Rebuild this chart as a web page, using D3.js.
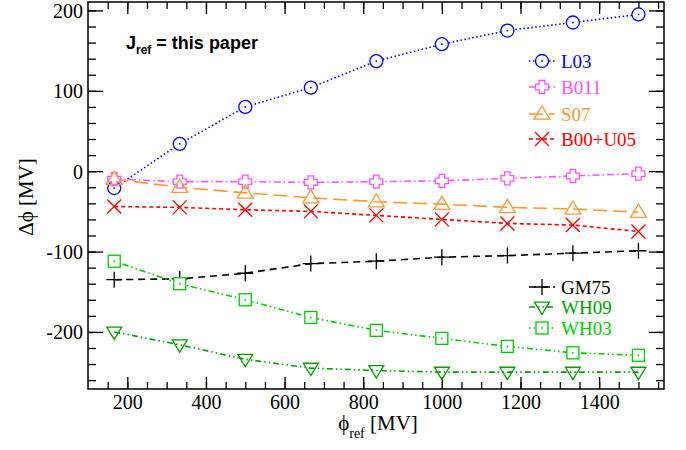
<!DOCTYPE html>
<html>
<head>
<meta charset="utf-8">
<script src="https://cdn.jsdelivr.net/npm/d3@7"></script>
<style>
  html, body { margin: 0; padding: 0; background: #fff; }
  svg { display: block; }
  .serif { font-family: 'Liberation Serif', 'Times New Roman', Times, serif; }
  .sans { font-family: 'Liberation Sans', Arial, Helvetica, sans-serif; }
</style>
</head>
<body>
<svg id="chart" width="686" height="450"></svg>
<script>
// Reference rigidity values (MV)
const phiRef = [166.7, 333.3, 500, 666.7, 833.3, 1000, 1166.7, 1333.3, 1500];

// Δφ for each parameterisation (MV)
const L03    = [-21, 34, 80, 104, 137, 158, 175, 185, 195];
const B011   = [-10, -13, -13, -14, -13, -12, -9, -6, -3];
const S07    = [-10, -20, -27, -33, -38, -41, -45, -47, -51];
const B00U05 = [-44, -45, -48, -50, -55, -60, -65, -67, -75];
const GM75   = [-135, -134, -127, -115, -112, -107, -105, -102, -99];
const WH09   = [-200, -216, -234, -245, -248, -250, -250, -250, -250];
const WH03   = [-112, -140, -160, -182, -198, -208, -218, -226, -229];

const xTicks = [200, 400, 600, 800, 1000, 1200, 1400];
const yTicks = [-200, -100, 0, 100, 200];

const series = [
  { name: "L03",     values: L03,    color: "#0000ff", dash: "1.5,2.5", marker: "circleDot" },
  { name: "B011",    values: B011,   color: "#ff55ff", dash: "7,3,1.5,3", marker: "fatPlus" },
  { name: "S07",     values: S07,    color: "#ff9933", dash: "14,6", marker: "triUp" },
  { name: "B00+U05", values: B00U05, color: "#ff0000", dash: "4,3", marker: "cross" },
  { name: "GM75",    values: GM75,   color: "#000000", dash: "7,5", marker: "plus" },
  { name: "WH09",    values: WH09,   color: "#00a000", dash: "6,3,1.5,3,1.5,3", marker: "triDown" },
  { name: "WH03",    values: WH03,   color: "#00cc00", dash: "1.5,3,1.5,3,6,3", marker: "squareDot" }
];

const svg = d3.select("#chart");
const plotL = 88, plotR = 664, plotT = 2, plotB = 389;

const x = d3.scaleLinear().domain([100, 1565]).range([plotL, plotR]);
const y = d3.scaleLinear().domain([-271, 210.5]).range([plotB, plotT]);

// Axes with inward ticks on all four sides
const xMinor = d3.range(150, 1565, 50);
const yMinor = d3.range(-260, 211, 20);
const plain = v => String(v);

function tickGroup(axis, tf) {
  const g = svg.append("g").attr("transform", tf).call(axis);
  g.select(".domain").remove();
  g.attr("font-family", null).attr("font-size", null).classed("serif", true);
  g.selectAll("line").attr("stroke", "#000").attr("stroke-width", 1.3);
  return g;
}

tickGroup(d3.axisBottom(x).tickValues(xMinor).tickSize(-7).tickFormat(""), `translate(0,${plotB})`);
tickGroup(d3.axisTop(x).tickValues(xMinor).tickSize(-7).tickFormat(""), `translate(0,${plotT})`);
tickGroup(d3.axisLeft(y).tickValues(yMinor).tickSize(-8).tickFormat(""), `translate(${plotL},0)`);
tickGroup(d3.axisRight(y).tickValues(yMinor).tickSize(-8).tickFormat(""), `translate(${plotR},0)`);

const xb = tickGroup(d3.axisBottom(x).tickValues(xTicks).tickSize(-12).tickFormat(plain), `translate(0,${plotB})`);
tickGroup(d3.axisTop(x).tickValues(xTicks).tickSize(-12).tickFormat(""), `translate(0,${plotT})`);
const yl = tickGroup(d3.axisLeft(y).tickValues(yTicks).tickSize(-15).tickFormat(plain), `translate(${plotL},0)`);
tickGroup(d3.axisRight(y).tickValues(yTicks).tickSize(-15).tickFormat(""), `translate(${plotR},0)`);

[xb, yl].forEach(g => g.selectAll("text").attr("font-size", 20).attr("fill", "#000"));
xb.selectAll("text").attr("y", 6).attr("dy", "0.71em");
yl.selectAll("text").attr("x", -5).attr("dy", "0.35em");

// Frame
svg.append("rect").attr("x", plotL).attr("y", plotT)
  .attr("width", plotR - plotL).attr("height", plotB - plotT)
  .attr("fill", "none").attr("stroke", "#000").attr("stroke-width", 1.5);

// Axis titles
const xt = svg.append("text").attr("class", "serif").attr("x", 378).attr("y", 430)
  .attr("text-anchor", "middle").attr("font-size", 21);
xt.append("tspan").text("ϕ");
xt.append("tspan").attr("font-size", 14).attr("dy", 8).text("ref");
xt.append("tspan").attr("dy", -8).text(" [MV]");

svg.append("text").attr("class", "serif").attr("transform", "translate(33,197) rotate(-90)")
  .attr("text-anchor", "middle").attr("font-size", 21)
  .text("Δϕ  [MV]");

// Annotation
const ann = svg.append("text").attr("class", "sans").attr("x", 126).attr("y", 49)
  .attr("font-weight", "bold").attr("font-size", 18);
ann.append("tspan").text("J");
ann.append("tspan").attr("font-size", 12).attr("dy", 5).text("ref");
ann.append("tspan").attr("dy", -5).text(" = this paper");

// Marker drawing
function drawMarker(g, type, cx, cy, color) {
  const sw = 1.3;
  const add = (el) => el.attr("fill", "none").attr("stroke", color).attr("stroke-width", sw);
  switch (type) {
    case "circleDot":
      add(g.append("circle").attr("cx", cx).attr("cy", cy).attr("r", 6.5)).attr("fill", "#fff");
      g.append("circle").attr("cx", cx).attr("cy", cy).attr("r", 0.9).attr("fill", color);
      break;
    case "fatPlus": {
      const a = 2.8, b = 6.5;
      const p = `M${cx-a},${cy-b}H${cx+a}V${cy-a}H${cx+b}V${cy+a}H${cx+a}V${cy+b}H${cx-a}V${cy+a}H${cx-b}V${cy-a}H${cx-a}Z`;
      add(g.append("path").attr("d", p)).attr("fill", "#fff");
      break;
    }
    case "triUp": {
      const s = 8;
      const p = `M${cx},${cy-s}L${cx+s},${cy+s*0.65}L${cx-s},${cy+s*0.65}Z`;
      add(g.append("path").attr("d", p));
      break;
    }
    case "triDown": {
      const s = 7.5;
      const p = `M${cx},${cy+s}L${cx+s},${cy-s*0.65}L${cx-s},${cy-s*0.65}Z`;
      add(g.append("path").attr("d", p));
      break;
    }
    case "cross": {
      const s = 7;
      add(g.append("path").attr("d", `M${cx-s},${cy-s}L${cx+s},${cy+s}M${cx-s},${cy+s}L${cx+s},${cy-s}`));
      break;
    }
    case "plus": {
      const s = 8;
      add(g.append("path").attr("d", `M${cx-s},${cy}H${cx+s}M${cx},${cy-s}V${cy+s}`));
      break;
    }
    case "squareDot": {
      const s = 6;
      add(g.append("rect").attr("x", cx-s).attr("y", cy-s).attr("width", 2*s).attr("height", 2*s)).attr("fill", "#fff");
      g.append("circle").attr("cx", cx).attr("cy", cy).attr("r", 0.9).attr("fill", color);
      break;
    }
  }
}

const line = d3.line().x(d => x(d[0])).y(d => y(d[1]));

const plot = svg.append("g");
series.forEach(s => {
  const pts = phiRef.map((p, i) => [p, s.values[i]]);
  plot.append("path").datum(pts).attr("d", line)
    .attr("fill", "none").attr("stroke", s.color).attr("stroke-width", 1.6)
    .attr("stroke-dasharray", s.dash);
});
series.forEach(s => {
  const g = plot.append("g");
  phiRef.forEach((p, i) => drawMarker(g, s.marker, x(p), y(s.values[i]), s.color));
});

// Legends
const legendRows = [
  { s: series[0], y: 61 }, { s: series[1], y: 87 }, { s: series[2], y: 114 }, { s: series[3], y: 139 },
  { s: series[4], y: 287 }, { s: series[5], y: 307 }, { s: series[6], y: 328 }
];
legendRows.forEach(r => {
  const g = svg.append("g");
  g.append("line").attr("x1", 529).attr("x2", 555).attr("y1", r.y).attr("y2", r.y)
    .attr("stroke", r.s.color).attr("stroke-width", 1.6).attr("stroke-dasharray", r.s.dash);
  drawMarker(g, r.s.marker, 542, r.y, r.s.color);
  g.append("text").attr("class", "serif").attr("x", 561).attr("y", r.y).attr("dy", "0.35em")
    .attr("font-size", 19).attr("fill", r.s.color).text(r.s.name);
});
</script>
</body>
</html>
